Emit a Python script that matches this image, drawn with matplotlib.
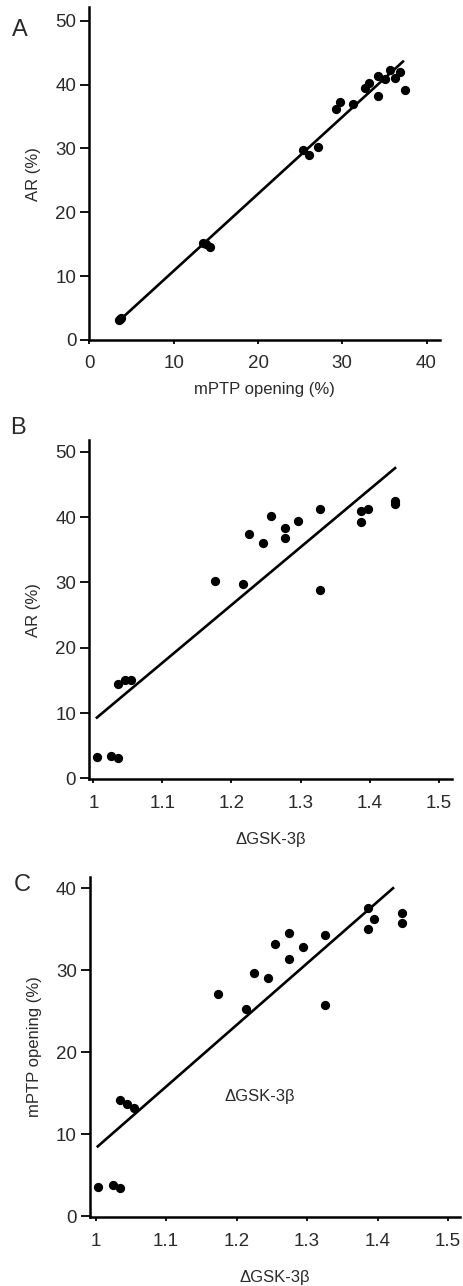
import numpy as np
import matplotlib
matplotlib.use("Agg")
import matplotlib.pyplot as plt

plt.rcParams['font.family'] = ['Liberation Sans', 'DejaVu Sans']

# Panel A: AR vs mPTP opening
mptp_a = [3.5, 3.7, 3.6, 13.5, 13.8, 14.3, 25.3, 26.0, 27.1, 29.2, 29.7, 31.3,
          32.7, 33.2, 34.3, 34.3, 35.1, 35.7, 36.3, 36.8, 37.4]
ar_a = [3.2, 3.5, 3.3, 15.2, 15.0, 14.5, 29.8, 28.9, 30.2, 36.1, 37.3, 36.9,
        39.4, 40.2, 41.3, 38.2, 40.8, 42.3, 41.1, 42.0, 39.1]
fit_a_x = [3.5, 37.2]
fit_a_y = [3.0, 43.6]

# Panel B: AR vs delta GSK-3beta
gsk_b = [1.005, 1.026, 1.036, 1.035, 1.046, 1.055, 1.176, 1.216, 1.226, 1.246,
         1.257, 1.277, 1.277, 1.297, 1.328, 1.328, 1.388, 1.388, 1.398, 1.437, 1.437]
ar_b = [3.2, 3.4, 3.1, 14.4, 15.0, 15.1, 30.2, 29.8, 37.4, 36.1,
        40.2, 38.3, 36.8, 39.4, 41.3, 28.9, 40.9, 39.3, 41.2, 42.4, 42.0]
fit_b_x = [1.005, 1.437]
fit_b_y = [9.3, 47.5]

# Panel C: mPTP opening vs delta GSK-3beta
gsk_c = [1.003, 1.024, 1.035, 1.034, 1.044, 1.054, 1.174, 1.214, 1.224, 1.244,
         1.255, 1.275, 1.275, 1.294, 1.325, 1.325, 1.386, 1.386, 1.395, 1.435, 1.435]
mptp_c = [3.5, 3.8, 3.4, 14.2, 13.7, 13.2, 27.1, 25.3, 29.6, 29.0,
          33.2, 34.5, 31.3, 32.8, 34.3, 25.8, 37.6, 35.0, 36.3, 37.0, 35.8]
fit_c_x = [1.003, 1.422]
fit_c_y = [8.5, 40.0]

ticks_a_x = [0, 10, 20, 30, 40]
ticks_ar = [0, 10, 20, 30, 40, 50]
ticks_gsk = [1.0, 1.1, 1.2, 1.3, 1.4, 1.5]
labels_gsk = ['1', '1.1', '1.2', '1.3', '1.4', '1.5']
ticks_c_y = [0, 10, 20, 30, 40]

W, H = 464, 1286
fig = plt.figure(figsize=(W / 100, H / 100), dpi=100)
txt = '#2a2a2a'


def box(left, top, right, bottom):
    return [left / W, 1 - bottom / H, (right - left) / W, (bottom - top) / H]


def style(ax):
    for s in ['top', 'right']:
        ax.spines[s].set_visible(False)
    for s in ['left', 'bottom']:
        ax.spines[s].set_linewidth(1.8)
    ax.tick_params(axis='y', length=6.5, width=1.3, pad=3, labelsize=13.5, labelcolor=txt)
    ax.tick_params(axis='x', length=3, width=1.3, pad=8, labelsize=13.5, labelcolor=txt)


axA = fig.add_axes(box(89.5, 7.3, 440, 340))
axA.scatter(mptp_a, ar_a, s=32, color='black', zorder=3)
axA.plot(fit_a_x, fit_a_y, color='black', lw=1.9)
axA.set_xlim(0, 41.6)
axA.set_ylim(0, 52.1)
axA.set_xticks(ticks_a_x)
axA.set_yticks(ticks_ar)
axA.set_xlabel('mPTP opening (%)', fontsize=12, color=txt, labelpad=7)
axA.set_ylabel('AR (%)', fontsize=12, color=txt, labelpad=10)
style(axA)

axB = fig.add_axes(box(89.3, 440, 451.7, 779.3))
axB.scatter(gsk_b, ar_b, s=32, color='black', zorder=3)
axB.plot(fit_b_x, fit_b_y, color='black', lw=1.9)
axB.set_xlim(0.994, 1.519)
axB.set_ylim(-0.15, 51.8)
axB.set_xticks(ticks_gsk)
axB.set_xticklabels(labels_gsk)
axB.set_yticks(ticks_ar)
axB.set_xlabel('ΔGSK-3β', fontsize=12, color=txt, labelpad=15)
axB.set_ylabel('AR (%)', fontsize=12, color=txt, labelpad=10)
style(axB)

axC = fig.add_axes(box(90, 876.7, 460, 1217.3))
axC.scatter(gsk_c, mptp_c, s=32, color='black', zorder=3)
axC.plot(fit_c_x, fit_c_y, color='black', lw=1.9)
axC.set_xlim(0.992, 1.517)
axC.set_ylim(-0.15, 41.4)
axC.set_xticks(ticks_gsk)
axC.set_xticklabels(labels_gsk)
axC.set_yticks(ticks_c_y)
axC.set_xlabel('ΔGSK-3β', fontsize=12, color=txt, labelpad=15)
axC.set_ylabel('mPTP opening (%)', fontsize=12, color=txt, labelpad=10)
axC.text(1.233, 14.6, 'ΔGSK-3β', fontsize=12, color=txt, ha='center', va='center')
style(axC)

for lab, x, y in [('A', 20, 30), ('B', 18, 428), ('C', 22, 885)]:
    fig.text(x / W, 1 - y / H, lab, fontsize=17, color=txt, ha='center', va='center')

fig.savefig('out.png', dpi=100)
